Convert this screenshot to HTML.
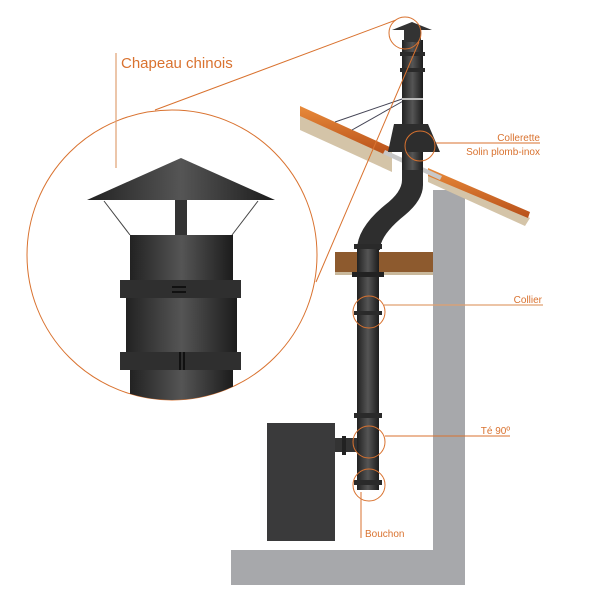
<!DOCTYPE html>
<html><head><meta charset="utf-8"><style>
html,body{margin:0;padding:0;background:#fff;width:600px;height:600px;overflow:hidden}
svg{display:block}
text{font-family:"Liberation Sans",sans-serif;fill:#d9722f}
</style></head><body>
<svg width="600" height="600" viewBox="0 0 600 600" xmlns="http://www.w3.org/2000/svg">
<defs>
<linearGradient id="pg" x1="0" x2="1" y1="0" y2="0">
<stop offset="0" stop-color="#222"/><stop offset="0.5" stop-color="#555"/><stop offset="1" stop-color="#1c1c1c"/>
</linearGradient>
<linearGradient id="rf" x1="0" x2="0" y1="0" y2="1">
<stop offset="0" stop-color="#e88a3a"/><stop offset="1" stop-color="#b8501a"/>
</linearGradient>
</defs>
<!-- wall/floor -->
<path d="M433,190 L465,190 L465,585 L231,585 L231,550 L433,550 Z" fill="#a7a8ab"/>
<!-- beam -->
<rect x="335" y="252" width="98" height="20" fill="#8d5a2e"/>
<rect x="335" y="272" width="98" height="3" fill="#c9b89b"/>
<!-- roof left -->
<path d="M300,110 L392,152 L392,172 L300,130 Z" fill="#d4c4a8"/>
<path d="M300,106 L392,148 L388,156 L300,116 Z" fill="url(#rf)"/>
<!-- roof right -->
<path d="M428,172 L530,218 L525,226 L428,182 Z" fill="#d4c4a8"/>
<path d="M428,168 L530,212 L528,218 L428,176 Z" fill="url(#rf)"/>
<!-- flashing -->
<path d="M385,150 L442,176 L440,180 L383,154 Z" fill="#c8c8c8"/>
<!-- guy wires -->
<line x1="335" y1="122" x2="405" y2="98" stroke="#445" stroke-width="1"/>
<line x1="352" y1="130" x2="405" y2="100" stroke="#445" stroke-width="1"/>
<!-- upper pipe -->
<rect x="402" y="40" width="21" height="135" fill="url(#pg)"/>
<rect x="400" y="52" width="25" height="4" fill="#2a2a2a"/>
<rect x="400" y="68" width="25" height="4" fill="#2a2a2a"/>
<rect x="402" y="98" width="21" height="2" fill="#bbb"/>
<!-- hat -->
<path d="M392,30 L412,22 L432,30 Z" fill="#333"/>
<rect x="404" y="30" width="17" height="12" fill="#333"/>
<!-- collerette -->
<path d="M394,124 L428,124 L440,152 L388,152 Z" fill="#2d2d2d"/>
<!-- offset -->
<path d="M402,170 L423,170 L423,185 Q423,200 405,215 Q380,235 380,250 L357,250 Q357,228 385,205 Q402,192 402,180 Z" fill="#2e2e2e"/>
<!-- lower pipe -->
<rect x="357" y="245" width="22" height="245" fill="url(#pg)"/>
<rect x="354" y="244" width="28" height="5" fill="#2a2a2a"/>
<rect x="352" y="272" width="32" height="5" fill="#222"/>
<rect x="354" y="311" width="28" height="4" fill="#2a2a2a"/>
<rect x="354" y="413" width="28" height="5" fill="#2a2a2a"/>
<rect x="354" y="480" width="28" height="5" fill="#2a2a2a"/>
<!-- stove -->
<rect x="267" y="423" width="68" height="118" fill="#3a3a3b"/>
<rect x="335" y="438" width="22" height="14" fill="#333"/>
<rect x="342" y="436" width="4" height="19" fill="#222"/>
<!-- orange callouts -->
<g stroke="#d9722f" fill="none" stroke-width="1">
<circle cx="172" cy="255" r="145"/>
<circle cx="405" cy="33" r="16"/>
<line x1="155" y1="110" x2="396" y2="20"/>
<line x1="316" y1="282" x2="419" y2="42"/>
<circle cx="420" cy="146" r="15"/>
<line x1="436" y1="143" x2="540" y2="143"/>
<circle cx="369" cy="312" r="16"/>
<circle cx="369" cy="442" r="16"/>
<line x1="385" y1="436" x2="510" y2="436"/>
<circle cx="369" cy="485" r="16"/>
<line x1="361" y1="492" x2="361" y2="538"/>
</g>
<g stroke="#e0a070" stroke-width="1.2">
<line x1="116" y1="53" x2="116" y2="168"/>
<line x1="384" y1="305" x2="543" y2="305"/>
</g>
<!-- zoom content -->
<path d="M87,200 L181,158 L275,200 Z" fill="url(#pg)"/>
<line x1="104" y1="201" x2="130" y2="235" stroke="#444"/>
<line x1="258" y1="201" x2="232" y2="235" stroke="#444"/>
<rect x="175" y="200" width="12" height="35" fill="#333"/>
<clipPath id="cc"><circle cx="172" cy="255" r="145"/></clipPath>
<g clip-path="url(#cc)">
<rect x="130" y="235" width="103" height="50" fill="url(#pg)"/>
<rect x="126" y="285" width="111" height="70" fill="url(#pg)"/>
<rect x="130" y="355" width="103" height="50" fill="url(#pg)"/>
<rect x="120" y="280" width="121" height="18" fill="#2f2f2f"/>
<rect x="120" y="352" width="121" height="18" fill="#2f2f2f"/>
</g>
<rect x="172" y="286" width="14" height="2" fill="#111"/>
<rect x="172" y="291" width="14" height="2" fill="#111"/>
<rect x="179" y="352" width="2" height="18" fill="#111"/>
<rect x="183" y="352" width="2" height="18" fill="#111"/>
<!-- labels -->
<text x="121" y="68" font-size="15">Chapeau chinois</text>
<text x="540" y="141" font-size="10" text-anchor="end">Collerette</text>
<text x="540" y="155" font-size="10" text-anchor="end">Solin plomb-inox</text>
<text x="542" y="303" font-size="10" text-anchor="end">Collier</text>
<text x="510" y="434" font-size="10" text-anchor="end">Té 90º</text>
<text x="365" y="537" font-size="10">Bouchon</text>
</svg>
</body></html>
